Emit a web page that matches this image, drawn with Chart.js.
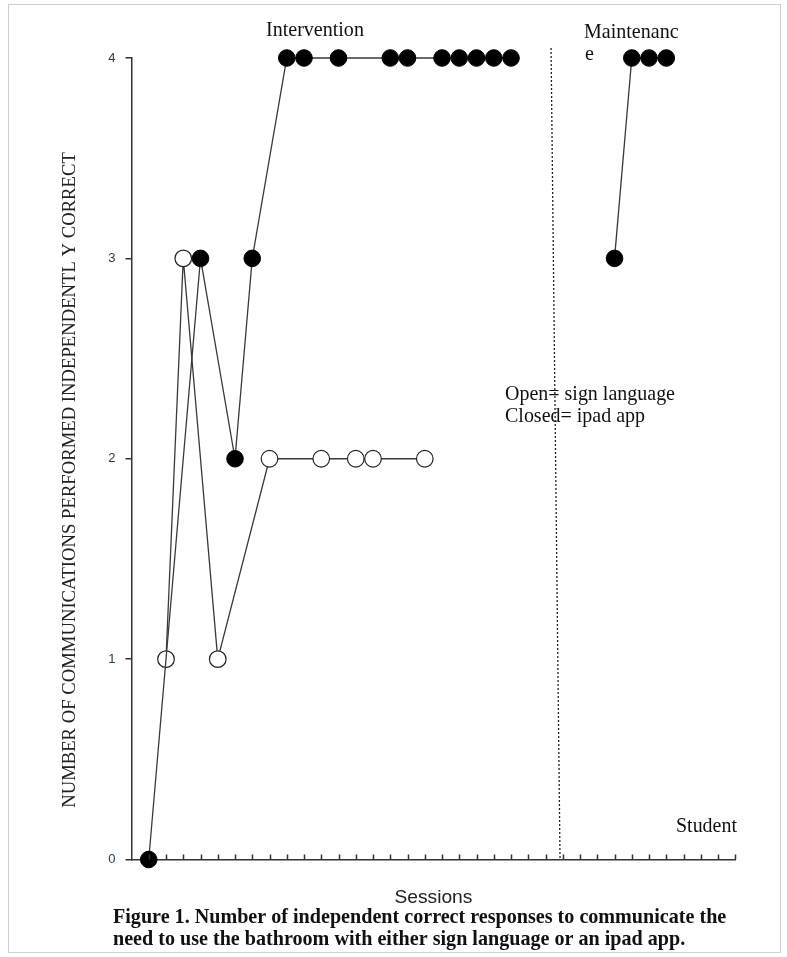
<!DOCTYPE html>
<html>
<head>
<meta charset="utf-8">
<script src="https://cdn.jsdelivr.net/npm/chart.js@4/dist/chart.umd.min.js"></script>
<style>
html,body{margin:0;padding:0;background:#fff;}
#wrap{width:787px;height:957px;position:relative;}
</style>
</head>
<body>
<div id="wrap"><canvas id="c" width="787" height="957"></canvas></div>
<script>
// ---- data ----
const sessionsOpen = [2, 3, 5, 8, 11, 13, 14, 17];
const valuesOpen = [1, 3, 1, 2, 2, 2, 2, 2];
const sessionsClosed = [1, 4, 6, 7, 9, 10, 12, 15, 16, 18, 19, 20, 21, 22];
const valuesClosed = [0, 3, 2, 3, 4, 4, 4, 4, 4, 4, 4, 4, 4, 4];
const sessionsMaint = [28, 29, 30, 31];
const valuesMaint = [3, 4, 4, 4];
const yTickLabels = [0, 1, 2, 3, 4];
const xSessionTicks = [1,2,3,4,5,6,7,8,9,10,11,12,13,14,15,16,17,18,19,20,21,22,23,24,25,26,27,28,29,30,31,32,33,34,35];
const phaseLineX = [24.32, 24.84];
const phaseLineY = [4.05, 0];

const yTitle = 'NUMBER OF COMMUNICATIONS PERFORMED INDEPENDENTL Y CORRECT';
const xTitle = 'Sessions';
const phase1 = 'Intervention';
const phase2a = 'Maintenanc';
const phase2b = 'e';
const legend1 = 'Open= sign language';
const legend2 = 'Closed= ipad app';
const studentLabel = 'Student';
const caption1 = 'Figure 1. Number of independent correct responses to communicate the';
const caption2 = 'need to use the bathroom with either sign language or an ipad app.';

function pts(xs, ys){ return xs.map((x,i)=>({x:x, y:ys[i]})); }

function fitFont(ctx, text, weight, family, target){
  ctx.font = weight + ' 20px ' + family;
  const w = ctx.measureText(text).width;
  const size = 20 * target / w;
  return weight + ' ' + size.toFixed(2) + 'px ' + family;
}

const serif = '"Liberation Serif", "DejaVu Serif", serif';
const sans = '"Liberation Sans", "Open Sans", sans-serif';

const extras = {
  id: 'extras',
  afterDraw(chart){
    const ctx = chart.ctx;
    const xs = chart.scales.x, ys = chart.scales.y;
    const area = chart.chartArea;
    ctx.save();
    // frame
    ctx.strokeStyle = '#cfcfcf';
    ctx.lineWidth = 1;
    ctx.strokeRect(8.5, 4.5, 772, 948);
    // x-axis inward ticks
    ctx.strokeStyle = '#333';
    ctx.lineWidth = 1.5;
    ctx.beginPath();
    xSessionTicks.forEach(v=>{
      const px = Math.round(xs.getPixelForValue(v)) + 0.5;
      ctx.moveTo(px, area.bottom);
      ctx.lineTo(px, area.bottom - 5);
    });
    ctx.stroke();
    // phase change dotted line
    ctx.setLineDash([2, 2]);
    ctx.lineWidth = 1.3;
    ctx.strokeStyle = '#222';
    ctx.beginPath();
    ctx.moveTo(xs.getPixelForValue(phaseLineX[0]), ys.getPixelForValue(phaseLineY[0]));
    ctx.lineTo(xs.getPixelForValue(phaseLineX[1]), ys.getPixelForValue(phaseLineY[1]));
    ctx.stroke();
    ctx.setLineDash([]);

    // texts
    ctx.fillStyle = '#111';
    ctx.textBaseline = 'middle';
    ctx.textAlign = 'left';
    const labFont = fitFont(ctx, phase1, 'normal', serif, 98);
    ctx.font = labFont;
    ctx.fillText(phase1, 266, 31);
    ctx.fillText(phase2a, 584, 33);
    ctx.fillText(phase2b, 585, 55);
    ctx.font = fitFont(ctx, legend1, 'normal', serif, 170);
    ctx.fillText(legend1, 505, 395);
    ctx.fillText(legend2, 505, 417);
    ctx.font = fitFont(ctx, studentLabel, 'normal', serif, 61);
    ctx.fillText(studentLabel, 676, 827);

    // x title
    ctx.textAlign = 'center';
    ctx.fillStyle = '#222';
    ctx.font = fitFont(ctx, xTitle, 'normal', sans, 78);
    ctx.fillText(xTitle, (area.left + area.right)/2, 898);

    // y title
    ctx.save();
    ctx.translate(70, 480);
    ctx.rotate(-Math.PI/2);
    ctx.fillStyle = '#222';
    ctx.font = fitFont(ctx, yTitle, 'normal', serif, 656);
    ctx.fillText(yTitle, 0, 0);
    ctx.restore();

    // caption
    ctx.textAlign = 'left';
    ctx.fillStyle = '#111';
    ctx.font = fitFont(ctx, caption1, 'bold', serif, 614);
    ctx.fillText(caption1, 113, 918);
    ctx.fillText(caption2, 113, 940);
    ctx.restore();
  }
};

const lineColor = '#3a3a3a';

new Chart(document.getElementById('c'), {
  type: 'line',
  data: {
    datasets: [
      {
        label: 'Closed (ipad app)',
        data: pts(sessionsClosed, valuesClosed),
        borderColor: lineColor, borderWidth: 1.3,
        pointRadius: 8.3, pointBackgroundColor: '#000', pointBorderColor: '#000', pointBorderWidth: 1,
        tension: 0, clip: false
      },
      {
        label: 'Closed maintenance',
        data: pts(sessionsMaint, valuesMaint),
        borderColor: lineColor, borderWidth: 1.3,
        pointRadius: 8.3, pointBackgroundColor: '#000', pointBorderColor: '#000', pointBorderWidth: 1,
        tension: 0, clip: false
      },
      {
        label: 'Open (sign language)',
        data: pts(sessionsOpen, valuesOpen),
        borderColor: lineColor, borderWidth: 1.3,
        pointRadius: 8.3, pointBackgroundColor: '#fff', pointBorderColor: '#222', pointBorderWidth: 1.2,
        tension: 0, clip: false
      }
    ]
  },
  options: {
    responsive: false,
    animation: false,
    devicePixelRatio: 1,
    layout: { padding: { left: 0, top: 58, right: 51.7, bottom: 0 } },
    plugins: { legend: { display: false }, tooltip: { enabled: false } },
    scales: {
      x: {
        type: 'linear', min: 0, max: 35,
        afterFit(scale){ scale.height = 957 - 859.5; },
        grid: { display: false, drawTicks: false },
        border: { display: true, color: '#333', width: 1.5 },
        ticks: { display: false }
      },
      y: {
        type: 'linear', min: 0, max: 4,
        afterFit(scale){ scale.width = 131.5; },
        afterBuildTicks(scale){ scale.ticks = yTickLabels.map(v=>({value:v})); },
        grid: { drawOnChartArea: false, drawTicks: true, tickLength: 6, color: '#333', lineWidth: 1.5 },
        border: { display: true, color: '#333', width: 1.5 },
        ticks: { padding: 10, color: '#2a3a55', font: { family: 'Liberation Sans', size: 13 } }
      }
    }
  },
  plugins: [extras]
});
</script>
</body>
</html>
